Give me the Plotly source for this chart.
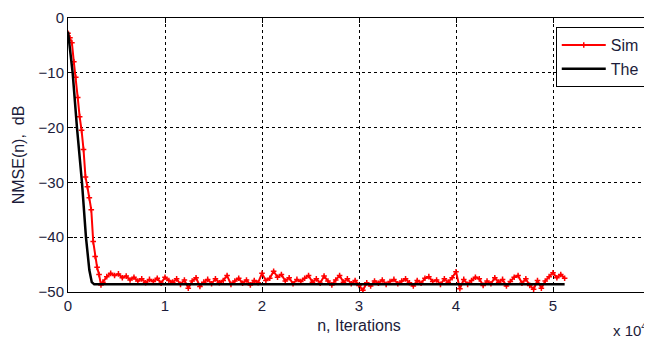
import plotly.graph_objects as go

# Simulated NMSE: transient (every 200 iterations) then steady state (every 400 iterations)
sim_transient_n = [0, 200, 400, 600, 800, 1000, 1200, 1400, 1600, 1800, 2000, 2200,
                   2400, 2600, 2800, 3000, 3200, 3400]
sim_transient_db = [-2.8, -3.6, -4.5, -8.0, -10.8, -14.5, -18.0, -20.5, -24.0, -29.0,
                    -30.8, -32.8, -35.0, -40.8, -43.5, -45.5, -46.8, -48.7]

sim_steady_start = 3600
sim_steady_step = 400
sim_steady_db = [
    -48.2, -47.2, -46.6, -47.0, -46.7, -47.4, -47.1, -47.8, -47.3, -48.0,
    -47.6, -48.3, -47.7, -48.1, -47.5, -48.4, -47.3, -47.9, -48.2, -47.6,
    -48.6, -47.8, -49.3, -48.0, -47.4, -49.0, -48.2, -47.7, -48.5, -47.6,
    -48.3, -47.9, -47.0, -48.6, -48.0, -47.5, -48.4, -47.8, -48.7, -47.9,
    -48.3, -46.6, -47.9, -47.5, -46.2, -47.3, -46.8, -48.0, -47.4, -48.5,
    -47.7, -48.1, -47.5, -47.0, -48.2, -47.6, -48.4, -47.1, -48.0, -48.7,
    -47.8, -47.0, -48.2, -47.6, -48.5, -47.9, -48.8, -49.7, -48.3, -48.9,
    -48.0, -48.4, -47.8, -48.6, -48.1, -47.7, -48.5, -48.0, -47.6, -48.3,
    -48.9, -47.9, -48.4, -47.5, -47.2, -48.1, -47.8, -48.6, -47.6, -48.2,
    -47.4, -46.3, -49.4, -47.7, -48.6, -47.9, -47.3, -47.6, -48.8, -48.0,
    -48.5, -47.4, -48.2, -47.7, -48.9, -48.1, -47.3, -47.0, -48.4, -47.6,
    -48.8, -49.5, -47.9, -49.3, -48.0, -47.2, -46.5, -47.4, -46.8, -47.5,
]

# Theoretical NMSE curve breakpoints
the_n = [0, 480, 925, 1440, 1850, 2200, 2450, 2700, 51200]
the_db = [-2.5, -10.0, -20.0, -30.0, -40.0, -46.0, -48.2, -48.6, -48.6]

x_tick_vals = [0, 10000, 20000, 30000, 40000, 50000, 60000]
x_tick_text = ["0", "1", "2", "3", "4", "5", "6"]
y_tick_vals = [-50, -40, -30, -20, -10, 0]

sim_steady_n = [sim_steady_start + i * sim_steady_step for i in range(len(sim_steady_db))]
sim_n = sim_transient_n + sim_steady_n
sim_db = sim_transient_db + sim_steady_db

font_family = "Liberation Sans, Arial, sans-serif"
text_color = "#1c1c3a"

fig = go.Figure()
fig.add_trace(go.Scatter(
    x=sim_n, y=sim_db, mode="lines+markers", name="Sim",
    line=dict(color="#ff0000", width=2),
    marker=dict(symbol="cross-thin", size=4, line=dict(color="#ff0000", width=1.5)),
))
fig.add_trace(go.Scatter(
    x=the_n, y=the_db, mode="lines", name="The",
    line=dict(color="#000000", width=2.5),
))

axis_common = dict(
    showline=True, linecolor="black", linewidth=1, mirror="ticks",
    ticks="inside", ticklen=5, tickcolor="black",
    showgrid=True, gridcolor="black", gridwidth=1, griddash="3px,3px",
    zeroline=False, automargin=False,
    tickfont=dict(family=font_family, size=15, color=text_color),
)

fig.update_xaxes(
    range=[0, 60000], tickvals=x_tick_vals, ticktext=x_tick_text,
    title=dict(text="n, Iterations", font=dict(family=font_family, size=16, color=text_color), standoff=6),
    **axis_common,
)
fig.update_yaxes(
    range=[-50, 0], tickvals=y_tick_vals,
    title=dict(text="NMSE(n),\u00a0\u00a0dB", font=dict(family=font_family, size=16, color=text_color), standoff=9),
    **axis_common,
)

fig.add_annotation(
    text="x 10<sup>4</sup>", xref="paper", yref="paper", x=1.0, y=-0.178,
    xanchor="right", yanchor="bottom", showarrow=False, xshift=-1,
    font=dict(family=font_family, size=15, color=text_color),
)

fig.update_layout(
    width=644, height=332,
    margin=dict(l=60, r=2, t=10, b=48, autoexpand=False),
    paper_bgcolor="white", plot_bgcolor="white",
    font=dict(family=font_family, size=15, color=text_color),
    legend=dict(
        x=0.991, y=0.967, xanchor="right", yanchor="top",
        bgcolor="white", bordercolor="black", borderwidth=1,
        font=dict(family=font_family, size=16, color=text_color),
        itemwidth=44, tracegroupgap=2,
    ),
    showlegend=True,
)

fig.write_html("out.html")
